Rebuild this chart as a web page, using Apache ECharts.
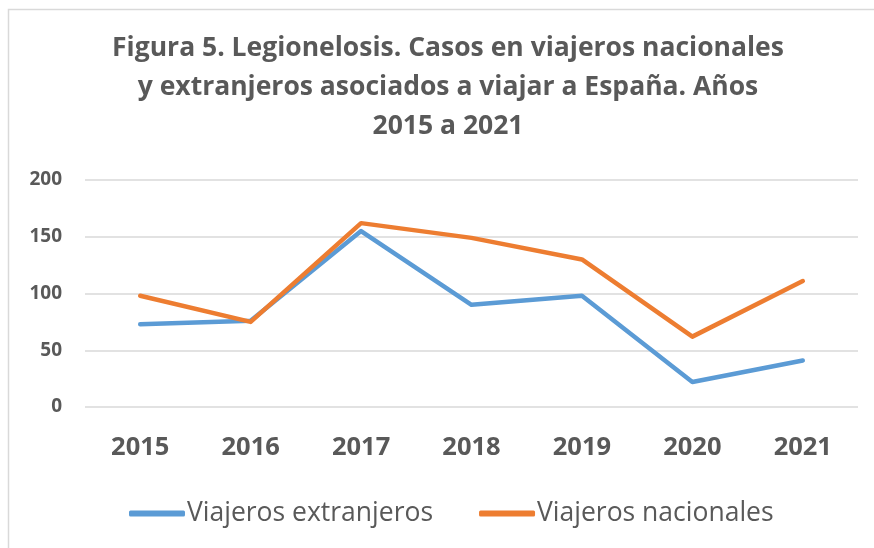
<!DOCTYPE html>
<html>
<head>
<meta charset="utf-8">
<script src="https://cdn.jsdelivr.net/npm/echarts@6/dist/echarts.min.js"></script>
<style>html,body{margin:0;padding:0;background:#fff}#c{width:874px;height:548px}</style>
</head>
<body>
<div id="c"></div>
<script>
const years = ['2015','2016','2017','2018','2019','2020','2021'];
const extranjeros = [73, 76, 155, 90, 98, 22, 41];
const nacionales = [98, 75, 162, 149, 130, 62, 111];
const yTicks = [0, 50, 100, 150, 200];
const titleText = 'Figura 5. Legionelosis. Casos en viajeros nacionales\ny extranjeros asociados a viajar a España. Años\n2015 a 2021';
const seriesNames = ['Viajeros extranjeros', 'Viajeros nacionales'];

const chart = echarts.init(document.getElementById('c'), null, {renderer: 'canvas'});
const font = '"Open Sans", "Noto Sans", sans-serif';
chart.setOption({
  animation: false,
  backgroundColor: '#fff',
  graphic: [{
    type: 'rect', shape: {x: 8.5, y: 9.5, width: 900, height: 600},
    style: {fill: 'none', stroke: '#d9d9d9', lineWidth: 1.5}, silent: true
  }],
  title: {
    text: titleText, left: 448, top: 29, textAlign: 'center', padding: 0,
    textStyle: {fontFamily: font, fontWeight: 'bold', fontSize: 26.5, color: '#595959', lineHeight: 39}
  },
  grid: {left: 85, right: 16, top: 180, bottom: 141},
  legend: {
    top: 500, left: 129, padding: 0, itemWidth: 56, itemHeight: 6, itemGap: 46,
    icon: 'roundRect',
    textStyle: {fontFamily: font, fontSize: 26.5, color: '#595959', padding: [0,0,0,-3]},
    data: seriesNames
  },
  xAxis: {
    type: 'category', data: years, boundaryGap: true,
    axisLine: {show: false}, axisTick: {show: false},
    axisLabel: {fontFamily: font, fontWeight: 'bold', fontSize: 25.5, color: '#595959', margin: 28}
  },
  yAxis: {
    type: 'value', min: yTicks[0], max: yTicks[yTicks.length-1], interval: 50,
    axisLine: {show: false}, axisTick: {show: false},
    splitLine: {lineStyle: {color: '#d9d9d9', width: 1.5}},
    axisLabel: {fontFamily: font, fontWeight: 'bold', fontSize: 19, color: '#595959', margin: 23}
  },
  series: [
    {name: seriesNames[0], type: 'line', data: extranjeros, showSymbol: false, symbol: 'none',
     lineStyle: {color: '#5b9bd5', width: 4.5, cap: 'round', join: 'round'}, itemStyle: {color: '#5b9bd5'}},
    {name: seriesNames[1], type: 'line', data: nacionales, showSymbol: false, symbol: 'none',
     lineStyle: {color: '#ed7d31', width: 4.5, cap: 'round', join: 'round'}, itemStyle: {color: '#ed7d31'}}
  ]
});
</script>
</body>
</html>
